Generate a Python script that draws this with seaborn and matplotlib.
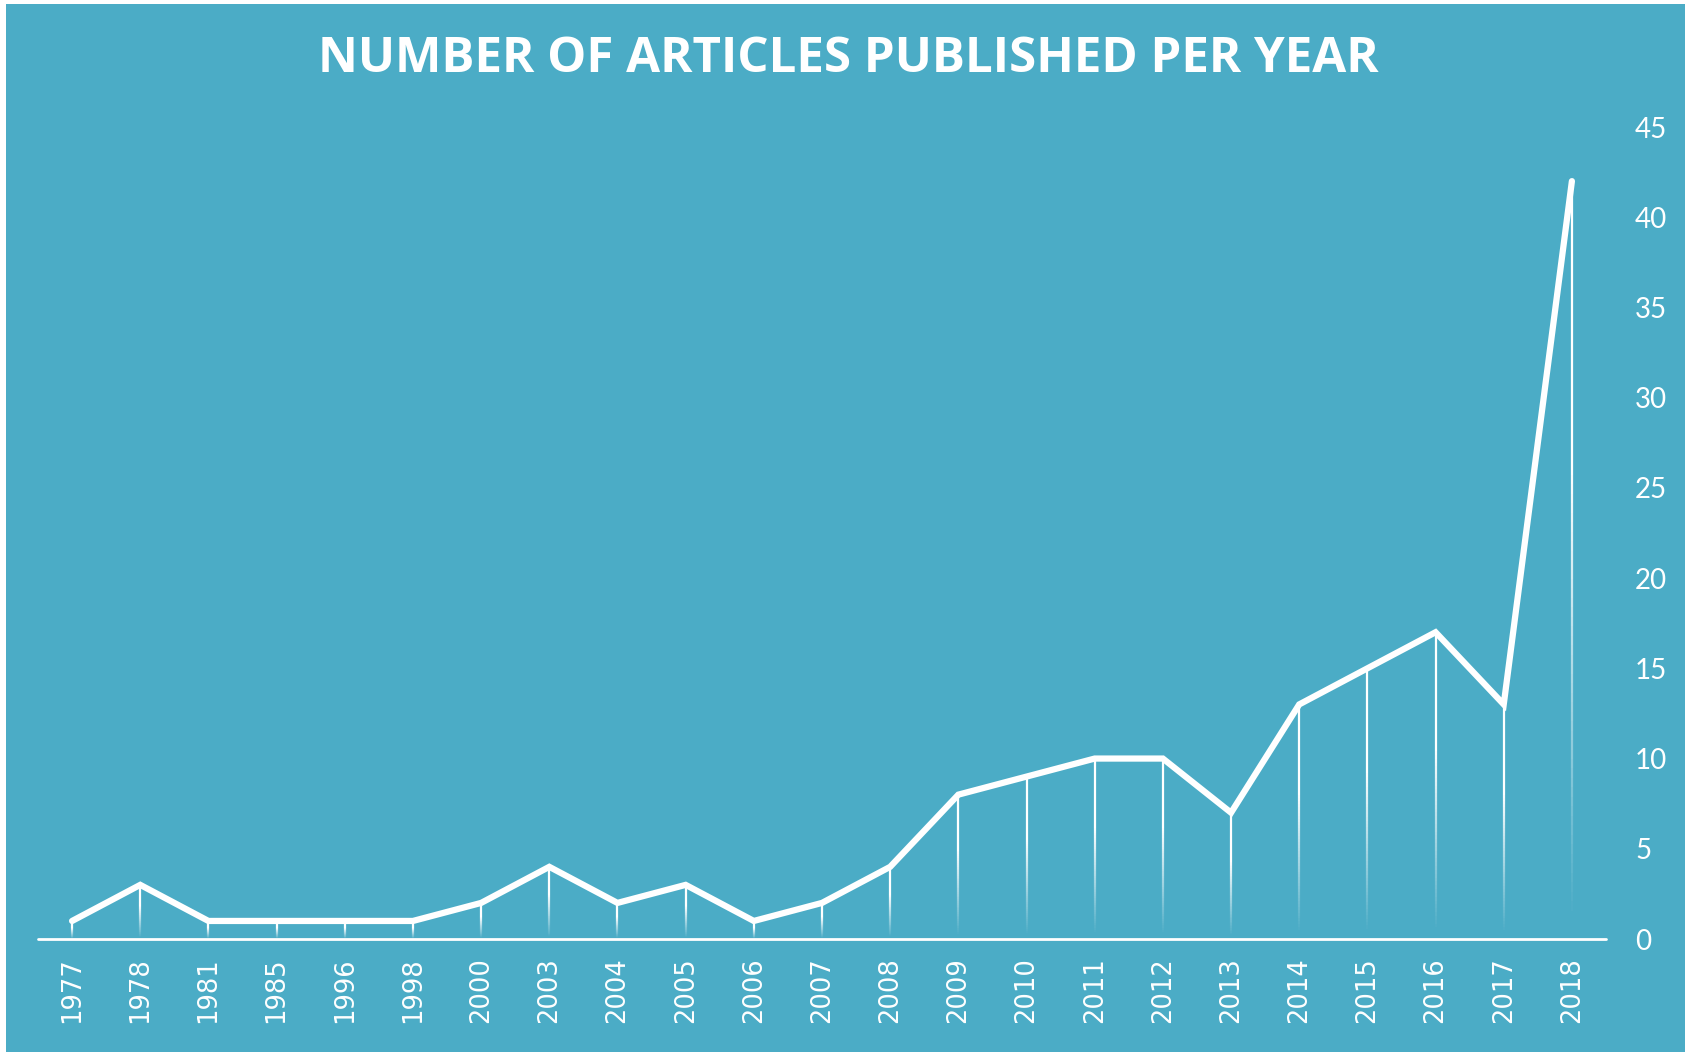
import numpy as np
import matplotlib
matplotlib.use("Agg")
import matplotlib.pyplot as plt
from matplotlib.collections import LineCollection
from matplotlib.patches import Rectangle
import seaborn as sns

# data
years = ["1977", "1978", "1981", "1985", "1996", "1998", "2000", "2003", "2004",
         "2005", "2006", "2007", "2008", "2009", "2010", "2011", "2012", "2013",
         "2014", "2015", "2016", "2017", "2018"]
articles = [1, 3, 1, 1, 1, 1, 2, 4, 2, 3, 1, 2, 4, 8, 9, 10, 10, 7, 13, 15, 17, 13, 42]
y_ticks = [0, 5, 10, 15, 20, 25, 30, 35, 40, 45]

bg = "#4BACC6"
W, H = 1689, 1052

sns.set_style("white")
plt.rcParams["font.family"] = ["DejaVu Sans"]

fig = plt.figure(figsize=(W / 100, H / 100), dpi=100, facecolor="white")
# teal panel with thin white margin
fig.patches.append(Rectangle((6 / W, 0), (1685 - 6) / W, (H - 4) / H,
                             transform=fig.transFigure, facecolor=bg,
                             edgecolor="none", zorder=-5))

ax = fig.add_axes([38 / W, (H - 939) / H, (1606 - 38) / W, (939 - 127) / H])
ax.set_zorder(1)
ax.patch.set_alpha(0)

pos = np.arange(len(years))

# drop lines with a white-to-transparent gradient
segs, cols = [], []
n = 80
for x, v in zip(pos, articles):
    ys = np.linspace(0, v, n + 1)
    for i in range(n):
        segs.append([(x, ys[i]), (x, ys[i + 1])])
        f = (i + 0.5) / n
        cols.append((1, 1, 1, min(1.0, max(0.0, f * 1.7 - 0.05))))
ax.add_collection(LineCollection(segs, colors=cols, linewidths=1.6, zorder=2,
                                 capstyle="butt"))

sns.lineplot(x=pos, y=articles, ax=ax, color="white", linewidth=4.5,
             zorder=3, solid_capstyle="round", solid_joinstyle="miter")

ax.set_xlim(-0.5, len(years) - 0.5)
ax.set_ylim(0, 45)
ax.axhline(0, color="white", lw=2, zorder=4, clip_on=False)

for s in ax.spines.values():
    s.set_visible(False)

ax.set_xticks(pos)
ax.set_xticklabels(years, rotation=90, color="white", fontsize=18.5,
                   family=["DejaVu Sans"])
ax.tick_params(axis="x", length=0, pad=13)

ax.yaxis.tick_right()
ax.set_yticks(y_ticks)
ax.set_yticklabels([str(t) for t in y_ticks], color="white", fontsize=20,
                   family=["Lato", "DejaVu Sans"])
ax.tick_params(axis="y", length=0, pad=21)
for lab in ax.get_yticklabels():
    lab.set_horizontalalignment("left")

ax.set_xlabel("")
ax.set_ylabel("")
ax.grid(False)

fig.text(0.5 * (1 + 8 / W), 1 - 59 / H, "NUMBER OF ARTICLES PUBLISHED PER YEAR",
         ha="center", va="center", color="white", fontsize=35.5,
         fontweight="bold", family=["Open Sans", "DejaVu Sans"])

fig.savefig("out.png", dpi=100, facecolor="white")
